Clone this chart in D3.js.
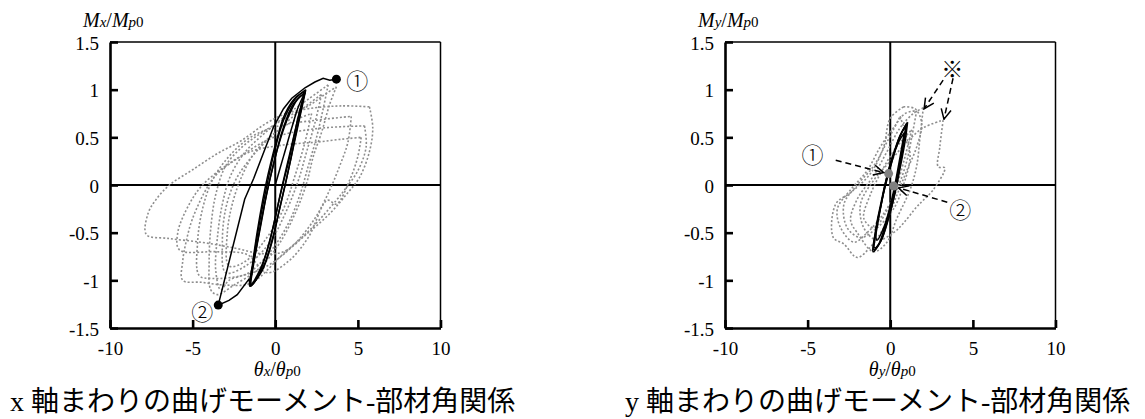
<!DOCTYPE html>
<html>
<head>
<meta charset="utf-8">
<script src="https://cdn.jsdelivr.net/npm/d3@7"></script>
<style>
  body { margin: 0; background: #fff; }
  svg { display: block; }
  .serif { font-family: "Liberation Serif", "DejaVu Serif", serif; }
  .cap { font-family: "Liberation Serif", "Noto Sans CJK JP", serif; }
  .mark { font-family: "Noto Sans CJK JP", sans-serif; }
</style>
</head>
<body>
<svg id="chart" width="1145" height="419"></svg>
<script>
// axis ticks
const xTicks = [-10, -5, 0, 5, 10];
const yTicks = [-1.5, -1, -0.5, 0, 0.5, 1, 1.5];

// ---- x-axis panel (Mx - θx) ----
// grey dotted loops
const xGrey1 = [[5.7,0.82],[5.9,0.6],[5.7,0.35],[5.1,0.08],[4.3,-0.1],[3.3,-0.3],[2.0,-0.5],[0.5,-0.7],[-0.8,-0.72],[-2.5,-0.66],[-4.5,-0.6],[-6.5,-0.56],[-7.8,-0.52],[-7.7,-0.3],[-7.2,-0.15],[-6.4,0.0],[-5.0,0.16],[-3.5,0.33],[-2.1,0.46],[-0.7,0.63],[0.5,0.74],[2.0,0.8],[4.0,0.83],[5.7,0.82]];
const xGrey2 = [[5.4,0.62],[5.5,0.4],[5.0,0.15],[4.2,-0.05],[3.7,-0.16],[2.1,-0.47],[0.5,-0.72],[-1.5,-1.03],[-3.0,-1.05],[-4.5,-1.02],[-5.6,-1.0],[-5.6,-0.8],[-5.4,-0.6],[-5.0,-0.35],[-4.1,-0.02],[-3.5,0.12],[-2.1,0.3],[-0.5,0.47],[1.0,0.55],[3.0,0.6],[5.4,0.62]];
const xGrey3 = [[3.7,1.03],[3.3,0.85],[2.8,0.55],[2.3,0.3],[1.9,0.02],[1.3,-0.26],[0.3,-0.6],[-1.0,-0.88],[-2.5,-1.05],[-3.5,-1.15],[-3.9,-1.1],[-4.0,-0.8],[-3.9,-0.45],[-3.6,-0.1],[-3.0,0.2],[-2.0,0.4],[-0.8,0.55],[0.8,0.72],[2.2,0.85],[3.0,0.95],[3.7,1.03]];
const xGrey4 = [[3.2,1.05],[2.9,0.8],[2.5,0.5],[2.0,0.2],[1.5,-0.1],[0.8,-0.4],[-0.3,-0.7],[-1.6,-0.92],[-2.8,-1.0],[-3.3,-1.1],[-3.6,-0.9],[-3.5,-0.55],[-3.2,-0.2],[-2.7,0.1],[-1.8,0.35],[-0.6,0.55],[0.8,0.75],[2.0,0.9],[3.2,1.05]];
const xGrey5 = [[5.2,0.5],[5.0,0.3],[4.5,0.05],[3.7,-0.2],[3.15,-0.16],[2.0,-0.55],[0.8,-0.8],[-0.5,-0.92],[-1.7,-0.73],[-3.5,-0.7],[-5.8,-0.68],[-5.9,-0.5],[-5.2,-0.2],[-4.4,0.0],[-3.0,0.2],[-1.5,0.35],[0.5,0.42],[2.5,0.45],[4.0,0.48],[5.2,0.5]];
const xGrey6 = [[2.2,0.75],[1.8,0.45],[1.2,0.1],[0.5,-0.25],[-0.5,-0.55],[-1.8,-0.8],[-2.8,-0.85],[-2.9,-0.5],[-2.6,-0.2],[-2.0,0.1],[-1.2,0.35],[0.0,0.55],[1.2,0.68],[2.2,0.75]];
const xGrey7 = [[4.6,0.72],[4.4,0.45],[3.9,0.2],[3.3,-0.05],[2.4,-0.35],[1.0,-0.65],[-0.5,-0.85],[-2.0,-0.95],[-3.8,-0.98],[-4.6,-0.95],[-4.7,-0.6],[-4.4,-0.25],[-3.8,0.05],[-2.8,0.3],[-1.5,0.5],[0.2,0.62],[2.5,0.68],[4.6,0.72]];
const xGrey8 = [[2.8,0.95],[2.4,0.65],[1.9,0.35],[1.4,0.05],[0.6,-0.3],[-0.4,-0.62],[-1.8,-0.85],[-3.0,-0.92],[-3.2,-0.6],[-3.0,-0.25],[-2.4,0.05],[-1.4,0.3],[0.0,0.55],[1.5,0.78],[2.8,0.95]];
// black solid loops
const xBlackStart = [[0,0],[0.5,0.3],[1.0,0.6],[1.4,0.82],[1.8,0.97]];
const xBlack1 = [[1.8,0.97],[1.4,0.72],[1.1,0.48],[0.8,0.24],[0.45,0],[0.05,-0.3],[-0.35,-0.6],[-0.9,-0.88],[-1.45,-1.04],[-1.3,-0.82],[-1.0,-0.52],[-0.65,-0.2],[-0.3,0.08],[0.2,0.42],[0.8,0.72],[1.35,0.9],[1.8,0.97]];
const xBlack2 = [[1.8,0.98],[1.5,0.74],[1.2,0.5],[0.95,0.28],[0.6,0],[0.2,-0.3],[-0.2,-0.6],[-0.8,-0.9],[-1.5,-1.05],[-1.35,-0.8],[-1.1,-0.5],[-0.75,-0.15],[-0.45,0.1],[0.05,0.45],[0.6,0.75],[1.3,0.93],[1.8,0.98]];
const xBlack3 = [[1.75,0.96],[1.35,0.68],[1.0,0.42],[0.7,0.2],[0.3,-0.1],[-0.1,-0.42],[-0.6,-0.75],[-1.1,-0.98],[-1.55,-1.06],[-1.2,-0.72],[-0.85,-0.4],[-0.5,-0.08],[-0.1,0.22],[0.45,0.58],[1.1,0.85],[1.75,0.96]];
const xBlack4 = [[1.85,1.0],[1.6,0.8],[1.3,0.56],[1.0,0.32],[0.7,0.08],[0.3,-0.22],[-0.15,-0.55],[-0.7,-0.85],[-1.5,-1.06],[-1.4,-0.9],[-1.15,-0.6],[-0.85,-0.3],[-0.5,0],[-0.05,0.35],[0.55,0.7],[1.2,0.9],[1.85,1.0]];
const xBlackFinal = [[-1.5,-1.05],[-1.6,-0.99],[-2.3,-1.15],[-2.8,-1.21],[-3.45,-1.26],[-2.65,-0.705],[-1.85,-0.15],[-1.3,0.07],[-0.75,0.32],[-0.1,0.61],[0.5,0.8],[1.0,0.91],[1.8,1.02],[2.4,1.08],[2.9,1.12],[3.3,1.1],[3.7,1.11]];
const xPoints = [[3.7,1.11],[-3.45,-1.26]];
const xLabels = [{ t: "①", at: [4.97,1.11] }, { t: "②", at: [-4.42,-1.31] }];

// ---- y-axis panel (My - θy) ----
const yGrey1 = [[0.8,0.82],[0.0,0.7],[-0.4,0.4],[-1.2,0.12],[-2.4,-0.08],[-3.3,-0.2],[-3.45,-0.55],[-2.8,-0.62],[-2.0,-0.76],[-1.2,-0.65],[-0.4,-0.45],[0.3,-0.15],[1.0,0.15],[1.6,0.4],[1.9,0.65],[1.5,0.8],[0.8,0.82]];
const yGrey2 = [[2.0,0.81],[1.8,0.5],[1.6,0.2],[1.2,-0.05],[0.4,-0.35],[-0.2,-0.6],[-1.0,-0.7],[-2.0,-0.5],[-2.4,-0.37],[-2.0,-0.15],[-1.0,0.1],[-0.2,0.35],[0.6,0.6],[1.4,0.75],[2.0,0.81]];
const yGrey3 = [[3.2,0.68],[3.0,0.4],[2.9,0.19],[3.3,0.18],[2.6,-0.05],[2.0,-0.16],[1.6,-0.23],[0.8,-0.4],[0.2,-0.5],[-0.8,-0.58],[-1.6,-0.45],[-1.8,-0.2],[-1.0,0.05],[0.0,0.25],[1.0,0.45],[2.0,0.6],[3.2,0.68]];
const yGrey4 = [[1.3,0.58],[0.9,0.3],[0.4,0.0],[-0.3,-0.3],[-1.0,-0.45],[-1.6,-0.35],[-1.2,-0.1],[-0.5,0.15],[0.3,0.38],[1.3,0.58]];
const yGrey5 = [[0.6,0.72],[0.9,0.55],[1.2,0.3],[0.8,0.0],[0.2,-0.25],[-0.8,-0.45],[-1.8,-0.55],[-2.6,-0.45],[-2.8,-0.2],[-2.0,0.0],[-1.0,0.2],[-0.2,0.45],[0.6,0.72]];
const yGrey6 = [[1.6,0.78],[1.3,0.5],[1.0,0.25],[0.4,-0.05],[-0.4,-0.3],[-1.4,-0.5],[-2.2,-0.6],[-3.0,-0.45],[-3.2,-0.25],[-2.4,-0.05],[-1.4,0.15],[-0.6,0.4],[0.2,0.6],[0.9,0.75],[1.6,0.78]];
const yBlack1 = [[1.0,0.65],[0.8,0.42],[0.5,0.12],[0.2,-0.14],[-0.2,-0.4],[-0.6,-0.6],[-1.0,-0.68],[-0.85,-0.45],[-0.55,-0.2],[-0.25,0.05],[0.15,0.3],[0.6,0.52],[1.0,0.65]];
const yBlack2 = [[0.95,0.62],[0.7,0.36],[0.4,0.06],[0.05,-0.2],[-0.35,-0.45],[-0.7,-0.62],[-0.95,-0.66],[-0.75,-0.4],[-0.45,-0.12],[-0.1,0.12],[0.3,0.36],[0.7,0.55],[0.95,0.62]];
const yBlack3 = [[1.05,0.66],[0.9,0.46],[0.6,0.18],[0.3,-0.08],[-0.1,-0.35],[-0.55,-0.58],[-1.05,-0.7],[-0.9,-0.5],[-0.6,-0.25],[-0.3,0],[0.1,0.25],[0.55,0.5],[1.05,0.66]];
const yBlack4 = [[0.85,0.55],[0.6,0.3],[0.3,0.02],[0,-0.22],[-0.4,-0.45],[-0.8,-0.58],[-0.85,-0.45],[-0.6,-0.22],[-0.3,0.02],[0.1,0.28],[0.5,0.45],[0.85,0.55]];
const yPoints = [[-0.1,0.12],[0.2,-0.01]];
const yLabels = [{ t: "①", at: [-4.7,0.34] }, { t: "②", at: [4.23,-0.24] }, { t: "※", at: [3.75,1.24] }];
const yArrows = [[[-3.3,0.26],[-0.4,0.13]], [[3.45,-0.18],[0.5,-0.03]], [[3.2,1.1],[2.05,0.8]], [[3.8,1.12],[3.25,0.69]]];

const svg = d3.select("#chart");

svg.append("defs").append("marker")
  .attr("id", "arr")
  .attr("viewBox", "0 0 12 12")
  .attr("refX", 11).attr("refY", 6)
  .attr("markerWidth", 12).attr("markerHeight", 12)
  .attr("markerUnits", "userSpaceOnUse")
  .attr("orient", "auto")
  .append("path")
  .attr("d", "M1,1 L11,6 L1,11")
  .attr("fill", "none").attr("stroke", "#000").attr("stroke-width", 1.5);

function drawPanel(cfg) {
  const W = 330.5, H = 286;
  const g = svg.append("g").attr("transform", `translate(${cfg.left},42)`);
  const x = d3.scaleLinear().domain([-10, 10]).range([0, W]);
  const y = d3.scaleLinear().domain([-1.5, 1.5]).range([H, 0]);

  // frame
  g.append("line").attr("x1", 0).attr("x2", W).attr("y1", 0).attr("y2", 0)
    .attr("stroke", "#000").attr("stroke-width", 1.5);
  g.append("line").attr("x1", W).attr("x2", W).attr("y1", 0).attr("y2", H)
    .attr("stroke", "#000").attr("stroke-width", 1.5);
  // zero lines
  g.append("line").attr("x1", x(0)).attr("x2", x(0)).attr("y1", 0).attr("y2", H)
    .attr("stroke", "#000").attr("stroke-width", 2);
  g.append("line").attr("x1", 0).attr("x2", W).attr("y1", y(0)).attr("y2", y(0))
    .attr("stroke", "#000").attr("stroke-width", 2);

  const line = d3.line().x(d => x(d[0])).y(d => y(d[1])).curve(d3.curveCatmullRom.alpha(0.5));
  const lineStraight = d3.line().x(d => x(d[0])).y(d => y(d[1]));

  g.selectAll(".grey").data(cfg.grey).join("path")
    .attr("d", line)
    .attr("fill", "none").attr("stroke", "#8e8e8e")
    .attr("stroke-width", 1.6).attr("stroke-dasharray", "2 2");

  g.selectAll(".black").data(cfg.black).join("path")
    .attr("d", line)
    .attr("fill", "none").attr("stroke", "#000").attr("stroke-width", 1.5);

  if (cfg.final) {
    g.append("path").datum(cfg.final).attr("d", lineStraight)
      .attr("fill", "none").attr("stroke", "#000").attr("stroke-width", 1.5);
  }

  g.selectAll(".pt").data(cfg.points).join("circle")
    .attr("cx", d => x(d[0])).attr("cy", d => y(d[1])).attr("r", 4.5)
    .attr("fill", cfg.pointColor);

  g.selectAll(".arr").data(cfg.arrows || []).join("line")
    .attr("x1", d => x(d[0][0])).attr("y1", d => y(d[0][1]))
    .attr("x2", d => x(d[1][0])).attr("y2", d => y(d[1][1]))
    .attr("stroke", "#000").attr("stroke-width", 1.5)
    .attr("stroke-dasharray", "6 4").attr("marker-end", "url(#arr)");

  g.selectAll(".lab").data(cfg.labels).join("text")
    .attr("class", "mark")
    .attr("x", d => x(d.at[0])).attr("y", d => y(d.at[1]))
    .attr("text-anchor", "middle").attr("dominant-baseline", "central")
    .attr("font-size", 22).attr("font-weight", 300).attr("fill", "#000")
    .text(d => d.t);

  // axes
  const ax = g.append("g").attr("transform", `translate(0,${H})`)
    .call(d3.axisBottom(x).tickValues(xTicks).tickSizeInner(-8).tickSizeOuter(0)
      .tickPadding(13.5).tickFormat(d => String(d)));
  const ay = g.append("g")
    .call(d3.axisLeft(y).tickValues(yTicks).tickSizeInner(-8).tickSizeOuter(0)
      .tickPadding(11).tickFormat(d => String(d)));
  [ax, ay].forEach(a => {
    a.attr("font-family", null).attr("class", "serif").attr("font-size", 19);
    a.select(".domain").attr("stroke-width", 2.6);
    a.selectAll(".tick line").attr("stroke-width", 2.6);
    a.selectAll(".tick text").attr("fill", "#000");
  });
  ay.selectAll(".tick text").attr("dy", "0.38em");

  // axis titles
  const yt = g.append("text").attr("class", "serif").attr("x", -27).attr("y", -15)
    .attr("font-size", 20).attr("font-style", "italic");
  yt.append("tspan").text("M");
  yt.append("tspan").attr("font-size", 15).text(cfg.sub);
  yt.append("tspan").attr("font-style", "normal").text("/");
  yt.append("tspan").text("M");
  yt.append("tspan").attr("font-size", 15).text("p");
  yt.append("tspan").attr("font-size", 15).attr("font-style", "normal").text("0");

  const xt = g.append("text").attr("class", "serif").attr("x", x(0) + 2).attr("y", H + 48)
    .attr("text-anchor", "middle")
    .attr("font-size", 20).attr("font-style", "italic");
  xt.append("tspan").text("θ");
  xt.append("tspan").attr("font-size", 15).text(cfg.sub);
  xt.append("tspan").attr("font-style", "normal").text("/");
  xt.append("tspan").text("θ");
  xt.append("tspan").attr("font-size", 15).text("p");
  xt.append("tspan").attr("font-size", 15).attr("font-style", "normal").text("0");

  // caption
  svg.append("text").attr("class", "cap").attr("x", cfg.left - 100).attr("y", 411)
    .attr("font-size", 28)
    .text(cfg.caption);
}

drawPanel({
  left: 110, sub: "x",
  grey: [xGrey1, xGrey2, xGrey3, xGrey4, xGrey5, xGrey6, xGrey7, xGrey8],
  black: [xBlackStart, xBlack1, xBlack2, xBlack3, xBlack4],
  final: xBlackFinal,
  points: xPoints, pointColor: "#000",
  labels: xLabels,
  caption: "x 軸まわりの曲げモーメント-部材角関係"
});

drawPanel({
  left: 725, sub: "y",
  grey: [yGrey1, yGrey2, yGrey3, yGrey4, yGrey5, yGrey6],
  black: [yBlack1, yBlack2, yBlack3, yBlack4],
  final: null,
  points: yPoints, pointColor: "#808080",
  labels: yLabels, arrows: yArrows,
  caption: "y 軸まわりの曲げモーメント-部材角関係"
});
</script>
</body>
</html>
